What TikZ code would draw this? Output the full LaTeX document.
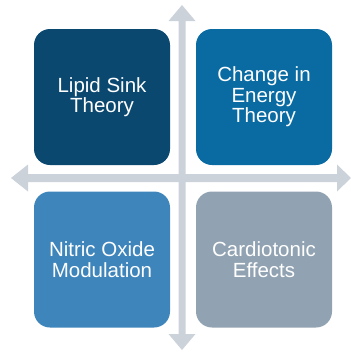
\documentclass[tikz,border=0pt]{standalone}
\usepackage{fontspec}
\setmainfont{Liberation Sans}
\begin{document}
\begin{tikzpicture}[x=1pt,y=-1pt,
  quad/.style={draw=none,rounded corners=16pt,minimum width=136pt,minimum height=136pt,
    text=white,align=center,inner sep=0pt,
    font=\fontsize{20.5}{20.5}\selectfont}]
\definecolor{axisgray}{HTML}{CBD2DA}
\definecolor{qnavy}{HTML}{0B4870}
\definecolor{qblue}{HTML}{0A6BA3}
\definecolor{qmid}{HTML}{3E85BB}
\definecolor{qslate}{HTML}{91A2B2}
\useasboundingbox (0,0) rectangle (351,354);
% vertical double-headed axis
\fill[axisgray] (182,5) -- (195.5,21) -- (185.5,21) -- (185.5,334) -- (195.5,334)
  -- (182,350) -- (168.5,334) -- (178.5,334) -- (178.5,21) -- (168.5,21) -- cycle;
% horizontal double-headed axis
\fill[axisgray] (11,178) -- (28,164.5) -- (28,174) -- (337,174) -- (337,164.5)
  -- (351,178) -- (337,191.5) -- (337,182) -- (28,182) -- (28,191.5) -- cycle;
% four quadrants
\node[quad,fill=qnavy]  (lipid)   at (102,97)  {Lipid Sink\\Theory};
\node[quad,fill=qblue]  (energy)  at (264,97)  {Change in\\Energy\\Theory};
\node[quad,fill=qmid]   (nitric)  at (102,259.5) {Nitric Oxide\\Modulation};
\node[quad,fill=qslate] (cardio)  at (264,259.5) {Cardiotonic\\Effects};
\end{tikzpicture}
\end{document}
